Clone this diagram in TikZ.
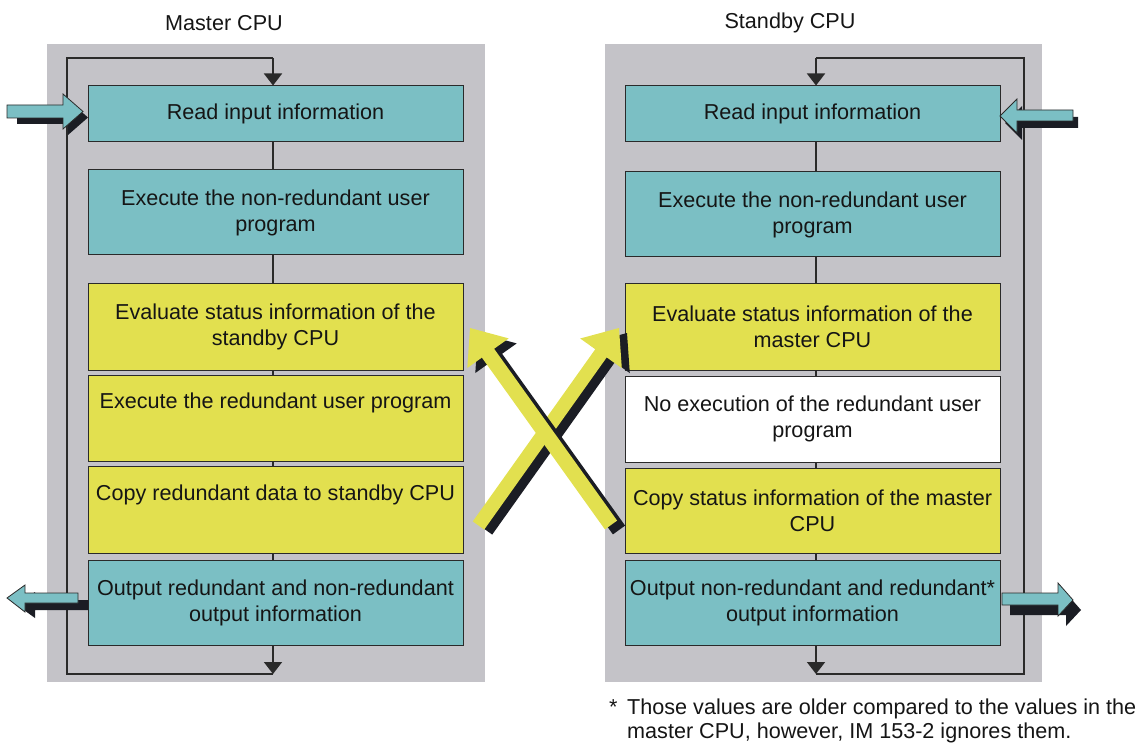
\documentclass[tikz,border=0pt]{standalone}
\usepackage{fontspec}
\setmainfont{Liberation Sans}
\usetikzlibrary{arrows.meta,calc}
\definecolor{tealc}{HTML}{7BBFC4}
\definecolor{yelc}{HTML}{E2E04F}
\definecolor{panelc}{HTML}{C4C3C8}
\definecolor{shad}{HTML}{1B1D24}
\definecolor{bord}{HTML}{2A2A2A}
\definecolor{txt}{HTML}{151515}
\begin{document}
\begin{tikzpicture}[x=1pt,y=-1pt,
  box/.style={draw=bord, line width=1pt, minimum width=375pt, align=center, inner sep=0pt,
    font=\fontsize{21.6}{26}\selectfont, text=txt},
  tealbox/.style={box, fill=tealc},
  yelbox/.style={box, fill=yelc},
  whitebox/.style={box, fill=white},
  panel/.style={fill=panelc, draw=none},
  flow/.style={draw=bord, line width=1.8pt},
  tip/.style={-{Triangle[width=18pt,length=12pt]}},
  tarrow/.style={fill=tealc, draw=bord, line width=0.8pt},
  shadowfill/.style={fill=shad},
  yarrow/.style={fill=yelc},
  title/.style={font=\fontsize{21.6}{26}\selectfont, text=txt, inner sep=0pt},
]
\useasboundingbox (0,0) rectangle (1140,743);

% panels
\fill[panel] (47,44) rectangle (485,682);
\fill[panel] (605,44) rectangle (1042,682);

% titles
\node[title] (tm) at (224,23) {Master CPU};
\node[title] (ts) at (790,23) {Standby CPU};

% left boxes
\node[tealbox, minimum height=56pt] (L1) at (275.5,114) {Read input information};
\node[tealbox, minimum height=85pt] (L2) at (275.5,212.5) {Execute the non-redundant user\\program};
\node[yelbox, minimum height=86pt] (L3) at (275.5,327) {Evaluate status information of the\\standby CPU};
\node[yelbox, minimum height=86pt] (L4) at (275.5,418) {Execute the redundant user program\\\strut};
\node[yelbox, minimum height=87pt] (L5) at (275.5,509.5) {Copy redundant data to standby CPU\\\strut};
\node[tealbox, minimum height=85pt] (L6) at (275.5,602.5) {Output redundant and non-redundant\\output information};

% right boxes
\node[tealbox, minimum height=56pt] (R1) at (812.5,114) {Read input information};
\node[tealbox, minimum height=85pt] (R2) at (812.5,214.5) {Execute the non-redundant user\\program};
\node[yelbox, minimum height=86pt] (R3) at (812.5,327) {Evaluate status information of the\\master CPU};
\node[whitebox, minimum height=86pt] (R4) at (812.5,419) {No execution of the redundant user\\program};
\node[yelbox, minimum height=85pt] (R5) at (812.5,510.5) {Copy status information of the master\\CPU};
\node[tealbox, minimum height=85pt] (R6) at (812.5,602.5) {Output non-redundant and redundant*\\output information};

% left flow
\coordinate (Lx) at (273,0);
\coordinate (LB) at (273,674);
\coordinate (LBL) at (67,674);
\coordinate (LTL) at (67,58);
\coordinate (LT) at (273,58);
\draw[flow] (L1.south -| Lx) -- (L2.north -| Lx);
\draw[flow] (L2.south -| Lx) -- (L3.north -| Lx);
\draw[flow] (L3.south -| Lx) -- (L4.north -| Lx);
\draw[flow] (L4.south -| Lx) -- (L5.north -| Lx);
\draw[flow] (L5.south -| Lx) -- (L6.north -| Lx);
\draw[flow,tip] (L6.south -| Lx) -- (LB);
\draw[flow] (LB) -- (LBL) -- (LTL) -- (LT);
\draw[flow,tip] (LT) -- (L1.north -| Lx);

% right flow
\coordinate (Rx) at (816,0);
\coordinate (RB) at (816,674);
\coordinate (RBR) at (1024,674);
\coordinate (RTR) at (1024,58);
\coordinate (RT) at (816,58);
\draw[flow] (R1.south -| Rx) -- (R2.north -| Rx);
\draw[flow] (R2.south -| Rx) -- (R3.north -| Rx);
\draw[flow] (R3.south -| Rx) -- (R4.north -| Rx);
\draw[flow] (R4.south -| Rx) -- (R5.north -| Rx);
\draw[flow] (R5.south -| Rx) -- (R6.north -| Rx);
\draw[flow,tip] (R6.south -| Rx) -- (RB);
\draw[flow] (RB) -- (RBR) -- (RTR) -- (RT);
\draw[flow,tip] (RT) -- (R1.north -| Rx);

% teal block arrows (input / output)
% left input
\fill[shadowfill] (17,111) -- (68,111) -- (68,100) -- (88,117.5) -- (68,135) -- (68,124) -- (17,124) -- cycle;
\draw[tarrow] (7,105) -- (63,105) -- (63,94) -- (83,111.5) -- (63,129) -- (63,118) -- (7,118) -- cycle;
% left output
\fill[shadowfill] (88,600) -- (35,600) -- (35,592) -- (17,605) -- (35,618) -- (35,610) -- (88,610) -- cycle;
\draw[tarrow] (78,593) -- (25,593) -- (25,585) -- (7,598) -- (25,612) -- (25,603) -- (78,603) -- cycle;
% right input
\fill[shadowfill] (1078,117) -- (1022,117) -- (1022,106) -- (1005,123) -- (1022,140) -- (1022,128) -- (1078,128) -- cycle;
\draw[tarrow] (1073,110) -- (1017,110) -- (1017,99) -- (1000,116) -- (1017,133) -- (1017,121) -- (1073,121) -- cycle;
% right output
\fill[shadowfill] (1010,603) -- (1066,603) -- (1066,593) -- (1081,610) -- (1066,626) -- (1066,615) -- (1010,615) -- cycle;
\draw[tarrow] (1002,593) -- (1058,593) -- (1058,583) -- (1073,600) -- (1058,616) -- (1058,605) -- (1002,605) -- cycle;

% crossing arrows: B (master -> standby evaluate), then A (standby -> master evaluate)
\begin{scope}[shift={(8,5)}]
\fill[shadowfill] (484.2,529.6) -- (606.7,357.4) -- (621.8,368.1) -- (619,328) -- (580.2,338.5) -- (595.3,349.2) -- (472.8,521.4) -- cycle;
\end{scope}
\fill[yarrow] (484.2,529.6) -- (606.7,357.4) -- (621.8,368.1) -- (619,328) -- (580.2,338.5) -- (595.3,349.2) -- (472.8,521.4) -- cycle;
\begin{scope}[shift={(8,5)}]
\fill[shadowfill] (617.1,520.6) -- (494.1,348.8) -- (508.7,338.4) -- (470,328) -- (467.3,368.0) -- (481.9,357.6) -- (604.9,529.4) -- cycle;
\end{scope}
\fill[yarrow] (617.1,520.6) -- (494.1,348.8) -- (508.7,338.4) -- (470,328) -- (467.3,368.0) -- (481.9,357.6) -- (604.9,529.4) -- cycle;

% footnote
\node[title, anchor=base west] (ast) at (609,714) {*};
\node[title, anchor=base west] (fn1) at (627,714) {Those values are older compared to the values in the};
\node[title, anchor=base west] (fn2) at (627,738) {master CPU, however, IM 153-2 ignores them.};
\end{tikzpicture}
\end{document}
